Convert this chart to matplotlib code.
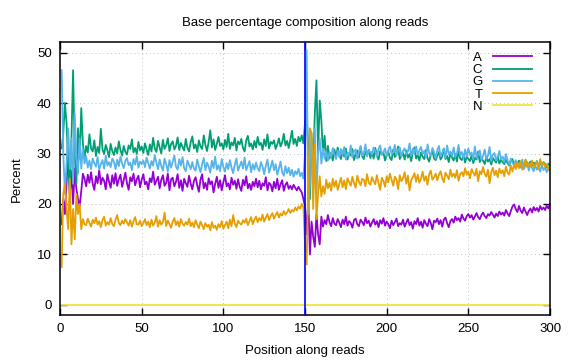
import matplotlib
matplotlib.use('Agg')
import matplotlib.pyplot as plt

plt.rcParams['font.family'] = ['Liberation Sans', 'DejaVu Sans']

# base composition per read position (percent)
positions = list(range(1, 301))

A = [16.0, 21.0, 18.0, 24.0, 31.0, 22.0, 26.5, 20.0, 27.0, 23.0,
     21.0, 19.5, 22.5, 26.0, 25.0, 23.5, 25.8, 24.2, 26.3, 24.0,
     22.8, 25.5, 24.1, 26.7, 23.9, 25.2, 24.6, 22.9, 25.9, 24.4,
     23.2, 25.7, 24.0, 26.1, 23.6, 24.9, 25.8, 23.4, 24.7, 26.2,
     24.1, 22.8, 25.3, 24.5, 26.0, 23.7, 24.9, 25.6, 23.3, 24.8,
     25.9, 23.9, 24.4, 22.9, 25.1, 24.3, 26.4, 23.8, 24.6, 25.4,
     23.1, 24.8, 25.7, 23.6, 24.2, 26.0, 22.7, 24.9, 25.2, 23.5,
     24.4, 25.9, 23.2, 24.7, 22.6, 25.0, 24.1, 23.4, 25.6, 24.0,
     22.9, 24.6, 25.3, 23.7, 22.4, 24.8, 25.9, 23.1, 24.2, 22.8,
     25.1, 23.9, 24.5, 22.3, 24.0, 25.4, 23.2, 24.7, 22.7, 24.3,
     25.7, 23.5, 24.1, 22.9, 25.2, 23.8, 24.6, 23.0, 24.9, 23.4,
     22.6, 24.8, 23.7, 25.5, 23.1, 24.0, 22.8, 24.4, 23.5, 25.0,
     23.3, 24.6, 22.9, 24.1, 23.6, 25.3, 22.7, 24.2, 23.8, 22.5,
     24.4, 23.1, 25.0, 22.8, 23.9, 24.7, 22.6, 23.8, 24.3, 23.0,
     23.6, 22.9, 23.8, 23.2, 22.7, 23.4, 22.8, 22.3, 21.0, 19.5,
     14.0, 21.0, 10.0, 16.5, 13.5, 11.5, 18.0, 14.0, 12.0, 17.5,
     15.5, 16.8, 16.0, 17.8, 16.4, 15.6, 17.2, 16.1, 15.8, 17.0,
     16.3, 15.4, 16.9, 16.0, 17.5, 15.7, 16.6, 16.2, 15.3, 16.8,
     17.1, 16.0, 15.6, 16.9, 16.4, 15.8, 17.3, 16.2, 16.7, 15.5,
     16.3, 17.0, 15.9, 16.6, 15.4, 16.8, 16.1, 17.2, 15.7, 16.5,
     16.0, 15.2, 16.7, 15.8, 16.4, 17.1, 15.6, 16.2, 15.9, 16.9,
     15.5, 16.3, 17.0, 15.8, 16.4, 15.1, 16.6, 16.0, 17.2, 15.7,
     16.5, 15.3, 16.8, 16.1, 15.6, 17.0, 16.2, 15.0, 16.7, 16.4,
     17.1, 16.0, 16.8, 15.5, 16.9, 17.3, 16.2, 15.4, 16.6, 17.0,
     16.3, 17.5, 16.8, 17.2, 16.5, 17.9, 17.1, 16.7, 17.6, 18.0,
     17.3, 17.8, 16.9, 17.5, 18.2, 17.4, 17.0, 17.8, 18.3, 17.6,
     17.2, 18.0, 17.7, 18.4, 17.9, 17.3, 18.1, 17.6, 18.5, 17.9,
     18.3, 17.7, 18.8, 18.1, 17.6, 18.6, 19.5, 19.9, 19.0, 18.4,
     19.6, 18.7, 18.2, 19.3, 18.5, 17.8, 18.6, 19.1, 18.3, 19.4,
     18.7, 19.2, 18.5, 19.6, 18.9, 19.3, 18.8, 19.7, 19.1, 20.0]

C = [31.0, 34.0, 40.0, 36.0, 28.0, 22.0, 33.0, 46.5, 30.0, 24.0,
     35.0, 29.0, 39.0, 32.0, 29.0, 31.5, 30.2, 33.8, 31.0, 30.4,
     32.6, 29.5, 31.3, 30.1, 34.9, 30.8, 29.9, 31.7, 30.6, 29.3,
     31.9, 30.5, 29.7, 31.2, 30.0, 32.4, 30.7, 29.6, 31.5, 30.3,
     29.8, 31.6, 30.9, 32.8, 30.2, 31.1, 29.9, 32.3, 30.6, 31.4,
     30.1, 32.0, 30.8, 29.7, 31.8, 30.4, 33.1, 31.0, 30.3, 32.5,
     31.2, 30.0, 32.7, 30.9, 31.6, 33.0, 30.5, 31.9, 32.4, 30.8,
     31.5, 33.2, 30.7, 32.1, 31.3, 30.6, 32.9, 31.1, 30.4, 32.2,
     33.4, 31.0, 31.8, 30.3, 32.6, 31.4, 30.9, 33.6, 31.7, 30.5,
     32.3, 34.6, 31.2, 32.8, 30.7, 31.9, 33.3, 31.5, 32.0, 30.8,
     32.7, 31.3, 33.9, 30.9, 32.2, 31.6, 33.1, 30.6, 32.4, 31.8,
     32.9, 31.1, 30.4, 32.6, 33.5, 31.4, 32.0, 30.8, 32.5, 31.2,
     33.3, 31.7, 32.1, 30.7, 32.8, 31.5, 33.8, 31.0, 32.3, 31.9,
     32.6, 30.9, 31.8, 33.0, 31.4, 32.2, 33.9, 31.6, 32.5, 31.1,
     32.7, 34.5, 31.9, 32.9, 31.5, 33.3, 32.4, 33.6, 32.0, 36.0,
     38.0, 31.0, 21.0, 33.0, 27.0, 38.0, 44.5, 30.0, 40.5, 36.5,
     30.0, 33.5, 28.5, 31.5, 29.0, 30.2, 28.6, 30.8, 29.3, 31.2,
     29.7, 28.9, 30.5, 29.4, 31.0, 28.8, 30.1, 29.6, 30.9, 28.7,
     29.9, 30.6, 29.2, 31.3, 29.5, 28.9, 30.4, 29.8, 30.7, 29.1,
     30.3, 29.0, 31.1, 29.6, 28.8, 30.5, 29.9, 30.2, 28.6, 29.7,
     30.4, 29.1, 28.7, 30.8, 29.3, 29.8, 31.4, 28.9, 29.6, 30.1,
     28.8, 30.6, 29.2, 29.9, 28.5, 30.3, 31.2, 29.0, 29.7, 28.6,
     30.2, 29.4, 28.9, 30.7, 29.1, 28.4, 29.8, 30.5, 29.0, 28.7,
     29.6, 30.3, 28.8, 29.4, 31.0, 28.9, 29.5, 28.3, 30.1, 29.2,
     28.6, 29.9, 28.4, 30.6, 29.0, 28.7, 29.8, 28.2, 29.4, 28.9,
     28.5, 29.6, 28.1, 29.2, 28.8, 30.4, 28.3, 29.0, 28.6, 27.9,
     29.3, 28.4, 28.9, 27.8, 29.1, 28.6, 28.2, 29.5, 28.0, 28.7,
     28.3, 27.9, 28.8, 28.1, 27.6, 28.5, 28.9, 27.7, 28.4, 28.0,
     28.6, 27.8, 28.3, 27.5, 28.7, 28.1, 27.9, 28.4, 27.6, 28.2,
     27.8, 28.5, 27.4, 28.1, 27.7, 28.3, 27.9, 27.2, 28.0, 27.6]

G = [46.5, 30.0, 22.0, 28.0, 35.0, 27.0, 33.0, 24.0, 38.0, 29.0,
     26.0, 33.0, 27.0, 31.0, 28.0, 29.5, 27.2, 28.6, 26.9, 29.0,
     28.1, 27.4, 29.3, 26.8, 27.9, 28.7, 27.0, 29.6, 27.6, 28.3,
     27.3, 29.0, 28.4, 26.9, 28.8, 27.5, 29.4, 28.0, 27.1, 28.6,
     29.1, 27.7, 28.2, 26.7, 28.9, 27.8, 29.5, 27.2, 28.4, 27.9,
     28.6, 27.3, 29.2, 28.1, 27.0, 28.5, 27.6, 29.7, 28.2, 26.9,
     28.8, 27.5, 26.6, 29.0, 27.9, 26.4, 28.7, 27.2, 28.4, 29.6,
     27.4, 26.8, 28.9, 27.6, 29.3, 27.1, 26.5, 28.6, 27.8, 26.9,
     28.3, 27.0, 26.6, 28.8, 27.5, 26.3, 27.9, 29.1, 26.7, 28.2,
     27.4, 26.2, 28.6, 27.1, 29.4, 26.8, 27.7, 26.5, 28.9, 27.3,
     26.4, 28.1, 26.9, 28.7, 27.2, 26.1, 27.8, 29.0, 26.6, 27.5,
     28.4, 27.0, 29.2, 26.7, 27.6, 28.5, 26.3, 27.9, 26.8, 28.2,
     27.1, 26.5, 28.3, 27.4, 25.9, 27.6, 28.8, 26.2, 27.3, 28.6,
     26.7, 27.9, 25.8, 27.0, 28.4, 26.3, 25.6, 27.5, 26.1, 27.2,
     25.7, 26.8, 25.4, 26.5, 25.9, 27.0, 25.5, 26.2, 25.0, 30.0,
     50.5, 18.0, 24.0, 34.0, 24.5, 35.0, 22.0, 30.0, 33.0, 28.0,
     31.0, 29.0, 30.5, 28.6, 30.2, 29.4, 31.1, 29.8, 28.9, 30.6,
     29.3, 30.9, 29.7, 31.3, 28.8, 30.1, 29.5, 31.6, 29.2, 30.4,
     30.8, 29.0, 30.3, 31.5, 29.6, 30.0, 31.8, 29.4, 30.7, 30.2,
     29.8, 31.2, 30.5, 29.3, 30.9, 31.6, 29.7, 30.3, 31.0, 29.5,
     30.6, 31.4, 29.9, 30.2, 31.7, 29.6, 30.8, 31.2, 29.4, 30.5,
     31.0, 29.8, 30.4, 32.0, 29.5, 30.9, 30.1, 31.4, 29.7, 30.6,
     31.3, 29.9, 30.5, 29.2, 31.8, 30.1, 29.6, 31.1, 30.3, 29.0,
     30.7, 31.5, 29.4, 30.2, 30.9, 29.1, 31.6, 29.8, 30.4, 29.5,
     31.2, 29.3, 30.0, 31.7, 29.6, 30.3, 29.0, 30.8, 29.4, 31.0,
     29.7, 30.2, 28.8, 31.4, 29.1, 29.9, 30.6, 28.7, 29.5, 30.8,
     28.9, 29.6, 31.3, 28.5, 29.8, 30.1, 28.6, 29.3, 30.5, 28.8,
     29.4, 28.3, 29.9, 28.6, 27.8, 29.0, 28.2, 27.6, 28.7, 27.4,
     28.1, 27.2, 28.8, 26.9, 27.7, 28.3, 26.6, 27.9, 27.1, 26.5,
     27.6, 26.8, 27.3, 26.4, 27.9, 26.7, 27.2, 26.3, 27.0, 26.6]

T = [7.5, 22.0, 24.0, 19.0, 15.0, 25.0, 12.0, 19.0, 13.0, 22.0,
     18.0, 20.0, 15.0, 17.0, 16.0, 15.8, 17.1, 16.3, 15.5, 16.9,
     16.2, 17.3, 15.9, 16.6, 15.4, 16.8, 17.5, 15.7, 16.4, 15.9,
     17.2, 16.0, 15.6, 16.9, 17.8, 16.2, 15.8, 16.7, 16.1, 17.0,
     16.4, 15.7, 16.8, 15.5, 16.6, 17.4, 16.0, 15.9, 16.7, 15.6,
     16.2, 17.0, 15.8, 16.5, 15.4, 16.9, 15.7, 16.3, 17.6, 15.5,
     16.8, 15.9, 16.4, 18.3, 15.6, 16.7, 16.0, 15.3, 16.5, 17.2,
     15.8, 16.6, 15.5, 17.0, 16.1, 15.7, 16.4, 15.9, 17.1, 15.6,
     16.3, 15.4, 16.8, 15.9, 15.2, 16.5, 15.8, 15.0, 16.2, 15.5,
     15.9, 14.8, 16.4, 15.3, 15.7, 14.9, 16.0, 15.4, 16.6, 15.1,
     15.8, 16.5, 15.2, 16.9, 15.6, 17.8, 16.1, 15.4, 16.7, 16.2,
     15.9, 16.8, 16.3, 17.1, 15.8, 16.6, 17.4, 16.0, 16.9, 17.5,
     16.4, 17.2, 16.7, 17.9, 16.5, 17.3, 18.0, 16.8, 17.6, 18.2,
     17.1, 17.8, 18.4, 17.3, 18.1, 17.7, 18.6, 17.9, 18.3, 19.0,
     18.2, 18.8, 18.5, 19.3, 18.7, 19.5, 19.1, 20.0, 19.4, 12.0,
     8.0, 25.0, 35.0, 34.0, 19.0, 32.0, 17.0, 22.0, 25.5, 21.5,
     23.5, 22.0, 24.8, 23.1, 24.2, 22.6, 25.0, 23.4, 24.6, 22.8,
     24.0, 25.2, 23.3, 24.7, 22.9, 25.1, 24.3, 23.6, 25.4, 24.1,
     23.2, 25.6, 24.4, 23.7, 25.0, 24.8, 23.5, 25.9, 24.2, 23.8,
     25.3, 24.5, 23.9, 25.7, 24.1, 22.8, 25.2, 24.6, 23.4, 25.5,
     24.3, 26.0, 24.8, 23.6, 25.4, 24.9, 22.9, 25.7, 24.5, 25.1,
     26.3, 24.0, 25.6, 22.7, 24.7, 25.3, 26.1, 24.4, 25.8, 24.2,
     25.0, 26.4, 24.6, 25.5, 23.8, 25.9, 26.6, 24.8, 25.3, 26.0,
     24.7, 25.8, 26.5, 25.1, 24.3, 26.2, 25.6, 24.9, 26.8, 25.4,
     26.0, 25.2, 26.7, 24.6, 25.9, 26.3, 25.5, 27.1, 25.8, 26.4,
     25.1, 26.9, 26.2, 25.6, 27.0, 24.5, 26.5, 25.9, 27.3, 26.0,
     25.4, 26.8, 24.1, 26.3, 27.2, 25.7, 26.6, 25.3, 27.0, 26.1,
     26.7, 25.5, 27.4, 26.2, 25.8, 27.6, 26.4, 27.9, 26.9, 28.3,
     27.1, 28.5, 26.8, 27.7, 28.8, 27.3, 28.0, 27.5, 28.6, 27.2,
     27.8, 28.4, 27.0, 28.9, 27.6, 28.2, 27.4, 27.9, 26.8, 27.5]

N = [0.0] * 300

bases = ['A', 'C', 'G', 'T', 'N']
colors = ['#9400d3', '#009e73', '#56b4e9', '#e69f00', '#f0e442']
read_split = 150

fig = plt.figure(figsize=(5.76, 3.6), dpi=100)
ax = fig.add_axes([0.1042, 0.125, 0.8507, 0.757])

for lab, vals, col in zip(bases, [A, C, G, T, N], colors):
    ax.plot(positions, vals, color=col, lw=1.3, label=lab)

ax.axvline(read_split, color='#0000ff', lw=1.2, zorder=5)

ax.set_xlim(0, 300)
ax.set_ylim(-2, 52)
ax.set_xticks([0, 50, 100, 150, 200, 250, 300])
ax.set_yticks([0, 10, 20, 30, 40, 50])
ax.tick_params(direction='in', length=5, width=1, top=True, right=True, labelsize=9.5, pad=6)
ax.grid(True, color='#c0c0c0', linestyle=(0, (1, 3)), lw=0.7)
for s in ax.spines.values():
    s.set_linewidth(1.1)

ax.set_title('Base percentage composition along reads', fontsize=9.5, pad=12)
ax.set_xlabel('Position along reads', fontsize=9.5, labelpad=7)
ax.set_ylabel('Percent', fontsize=9.5, labelpad=10)

leg = ax.legend(loc='upper right', bbox_to_anchor=(0.983, 1.0), frameon=False,
                markerfirst=False, fontsize=9.5, handlelength=3.0, labelspacing=0.0,
                borderaxespad=0.3, handletextpad=0.8)

fig.savefig('out.png', dpi=100)
